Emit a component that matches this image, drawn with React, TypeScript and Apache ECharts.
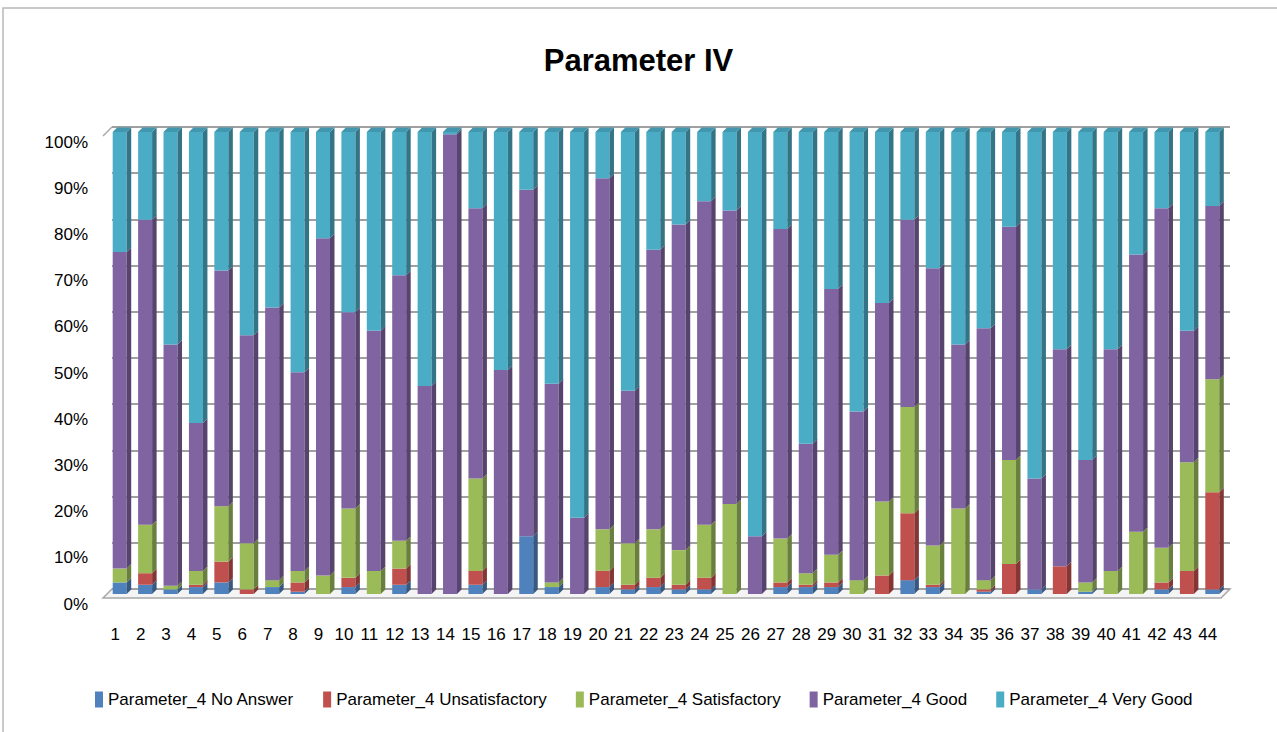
import React, { useEffect, useRef } from "react";
import * as echarts from "echarts";

const categories = Array.from({ length: 44 }, (_, i) => String(i + 1));

const noAnswer = [2.5, 2, 1, 1.5, 2.5, 0, 1.5, 0.5, 0, 1.5, 0, 2, 0, 0, 2, 0, 12.5, 1.5, 0, 1.5, 1, 1.5, 1, 1, 0, 0, 1.5, 1.5, 1.5, 0, 0, 3, 1.5, 0, 0.5, 0, 1, 0, 0.5, 0, 0, 1, 0, 1];
const unsatisfactory = [0, 2.5, 0, 0.5, 4.5, 1, 0, 2, 0, 2, 0, 3.5, 0, 0, 3, 0, 0, 0, 0, 3.5, 1, 2, 1, 2.5, 0, 0, 1, 0.5, 1, 0, 4, 14.5, 0.5, 0, 0.5, 6.5, 0, 6, 0, 0, 0, 1.5, 5, 21];
const satisfactory = [3, 10.5, 0.8, 3, 12, 10, 1.5, 2.5, 4, 15, 5, 6, 0, 0, 20, 0, 0, 1, 0, 9, 9, 10.5, 7.5, 11.5, 19.5, 0, 9.5, 2.5, 6, 3, 16, 23, 8.5, 18.5, 2, 22.5, 0, 0, 2, 5, 13.5, 7.5, 23.5, 24.5];
const good = [68.5, 66, 52.2, 32, 51, 45, 59, 43, 73, 42.5, 52, 57.5, 45, 99.5, 58.5, 48.5, 75, 43, 16.5, 76, 33, 60.5, 70.5, 70, 63.5, 12.5, 67, 28, 57.5, 36.5, 43, 40.5, 60, 35.5, 54.5, 50.5, 24, 47, 26.5, 48, 60, 73.5, 28.5, 37.5];
const veryGood = [26, 19, 46, 63, 30, 44, 38, 52, 23, 39, 43, 31, 55, 0.5, 16.5, 51.5, 12.5, 54.5, 83.5, 10, 56, 25.5, 20, 15, 17, 87.5, 21, 67.5, 34, 60.5, 37, 19, 29.5, 46, 42.5, 20.5, 75, 47, 71, 47, 26.5, 16.5, 43, 16];

const seriesNames = [
  "Parameter_4 No Answer",
  "Parameter_4 Unsatisfactory",
  "Parameter_4 Satisfactory",
  "Parameter_4 Good",
  "Parameter_4 Very Good",
];
const seriesData = [noAnswer, unsatisfactory, satisfactory, good, veryGood];
const colors = ["#4F81BD", "#C0504D", "#9BBB59", "#8064A2", "#4BACC6"];
const yTicks = [0, 10, 20, 30, 40, 50, 60, 70, 80, 90, 100];

const FONT = "'Liberation Sans', Arial, sans-serif";

// layout (back wall of the 3D plot)
const GRID_LEFT = 112;
const GRID_RIGHT = 47;
const GRID_TOP = 127;
const GRID_BOTTOM = 143;
const W = 1277;
const H = 732;
const FRONT_DX = -5; // front face offset from back plane
const FRONT_DY = 5;
const FACE_W = 14;
const DEPTH = 4.5;

function shade(hex: string, f: number): string {
  const n = parseInt(hex.slice(1), 16);
  const r = Math.round(((n >> 16) & 255) * f);
  const g = Math.round(((n >> 8) & 255) * f);
  const b = Math.round((n & 255) * f);
  return `rgb(${r},${g},${b})`;
}

export default function App() {
  const ref = useRef<HTMLDivElement>(null);
  useEffect(() => {
    document.body.style.margin = "0";
    const chart = echarts.init(ref.current!, null, { renderer: "svg" });

    const bases: number[][] = [];
    const cum = new Array(categories.length).fill(0);
    seriesData.forEach((arr) => {
      bases.push(cum.slice());
      arr.forEach((v, j) => (cum[j] += v));
    });

    const floorY = H - GRID_BOTTOM;
    const floorX0 = GRID_LEFT;
    const floorX1 = W - GRID_RIGHT;

    chart.setOption({
      animation: false,
      backgroundColor: "#ffffff",
      color: colors,
      title: {
        text: "Parameter IV",
        left: "center",
        top: 40,
        textStyle: { fontFamily: FONT, fontSize: 31, fontWeight: "bold", color: "#000" },
      },
      graphic: [
        {
          type: "rect",
          z: -10,
          shape: { x: 3, y: 8, width: 1300, height: 740 },
          style: { fill: "none", stroke: "#b8b8b8", lineWidth: 1.5 },
          silent: true,
        },
        {
          type: "polygon",
          z: -5,
          shape: {
            points: [
              [floorX0, floorY],
              [floorX1, floorY],
              [floorX1 - 9, floorY + 9],
              [floorX0 - 9, floorY + 9],
            ],
          },
          style: { fill: "#f4f4f4", stroke: "#a8a8a8", lineWidth: 1.5 },
          silent: true,
        },
        {
          type: "line",
          z: -5,
          shape: { x1: floorX0, y1: GRID_TOP, x2: floorX0 - 9, y2: GRID_TOP + 9 },
          style: { stroke: "#a8a8a8", lineWidth: 1.5 },
          silent: true,
        },
      ],
      legend: {
        top: 686,
        left: 90,
        itemWidth: 8,
        itemHeight: 16,
        itemGap: 29,
        icon: "rect",
        textStyle: { fontFamily: FONT, fontSize: 17, color: "#000" },
        data: seriesNames,
      },
      grid: { left: GRID_LEFT, right: GRID_RIGHT, top: GRID_TOP, bottom: GRID_BOTTOM },
      xAxis: {
        type: "category",
        data: categories,
        axisTick: { show: false },
        axisLine: { show: false },
        axisLabel: {
          fontFamily: FONT,
          fontSize: 17,
          color: "#000",
          margin: 37,
          interval: 0,
          formatter: (v: string) => `{a|${v}}`,
          rich: { a: { fontFamily: FONT, fontSize: 17, color: "#000", padding: [0, 19, 0, 0] } },
        },
      },
      yAxis: {
        type: "value",
        min: 0,
        max: 100,
        interval: 10,
        axisLine: { show: false },
        axisTick: { show: false },
        splitLine: { lineStyle: { color: "#a0a0a0", width: 2 } },
        axisLabel: {
          margin: 24,
          formatter: (v: number) => (yTicks.includes(v) ? `{a|${v}%}` : ""),
          rich: { a: { fontFamily: FONT, fontSize: 17, color: "#000", padding: [30, 0, 0, 0] } },
        },
      },
      series: seriesNames.map((name, i) => {
        const base = colors[i];
        const side = shade(colors[i], 0.68);
        const top = shade(colors[i], 0.88);
        return {
          name,
          type: "custom",
          itemStyle: { color: colors[i] },
          encode: { x: 0, y: 2 },
          data: seriesData[i].map((v, j) => [j, bases[i][j], bases[i][j] + v]),
          renderItem: (params: any, api: any) => {
            const idx = api.value(0);
            const lo = api.value(1);
            const hi = api.value(2);
            if (hi - lo <= 0) return null;
            const pb = api.coord([idx, lo]);
            const pt = api.coord([idx, hi]);
            const x0 = pb[0] + FRONT_DX - FACE_W / 2;
            const x1 = x0 + FACE_W;
            const yb = pb[1] + FRONT_DY;
            const yt = pt[1] + FRONT_DY;
            const children: any[] = [
              {
                type: "rect",
                shape: { x: x0, y: yt, width: FACE_W, height: yb - yt },
                style: { fill: base },
              },
              {
                type: "polygon",
                shape: {
                  points: [
                    [x1, yb],
                    [x1 + DEPTH, yb - DEPTH],
                    [x1 + DEPTH, yt - DEPTH],
                    [x1, yt],
                  ],
                },
                style: { fill: side },
              },
            ];
            if (hi >= 99.9) {
              children.push({
                type: "polygon",
                shape: {
                  points: [
                    [x0, yt],
                    [x0 + DEPTH, yt - DEPTH],
                    [x1 + DEPTH, yt - DEPTH],
                    [x1, yt],
                  ],
                },
                style: { fill: top },
              });
            }
            return { type: "group", children };
          },
        };
      }),
    });
    return () => chart.dispose();
  }, []);
  return <div ref={ref} style={{ width: W, height: H }} />;
}
